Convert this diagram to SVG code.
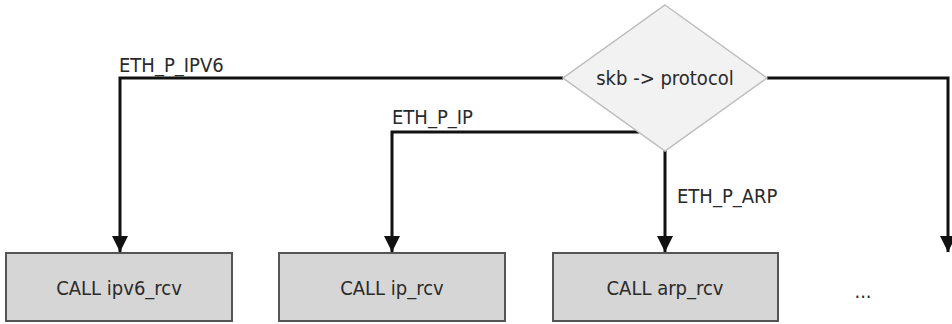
<svg xmlns="http://www.w3.org/2000/svg" width="952" height="324" viewBox="0 0 952 324">
<defs>
<style>
.t{font-family:"DejaVu Sans Condensed","Liberation Sans Narrow","Liberation Sans",sans-serif;font-stretch:condensed;fill:#2a2a2a;font-size:20px}
.box{fill:#d6d6d6;stroke:#555;stroke-width:2}
.ln{fill:none;stroke:#111;stroke-width:3}
</style>
<marker id="ah" viewBox="0 0 10 10" refX="10" refY="5" markerWidth="5.5" markerHeight="5.5" markerUnits="strokeWidth" orient="auto"><path d="M0,0 L10,5 L0,10 z" fill="#111"/></marker>
</defs>
<rect width="952" height="324" fill="#fff"/>
<g id="connectors">
<path class="ln" d="M563,78 H120 V252" marker-end="url(#ah)"/>
<path class="ln" d="M639,132 H392 V252" marker-end="url(#ah)"/>
<path class="ln" d="M665,151 V252" marker-end="url(#ah)"/>
<path class="ln" d="M767,78 H948 V252" marker-end="url(#ah)"/>
<text class="t" x="119" y="72">ETH_P_IPV6</text>
<text class="t" x="392" y="124">ETH_P_IP</text>
<text class="t" x="677" y="203">ETH_P_ARP</text>
</g>
<g id="decision">
<polygon points="665,5 767,78 665,151 563,78" fill="#f2f2f2" stroke="#bdbdbd" stroke-width="1.5"/>
<text class="t" x="665" y="85" text-anchor="middle">skb -&gt; protocol</text>
</g>
<g id="ipv6">
<rect class="box" x="6" y="253" width="226" height="68"/>
<text class="t" x="119" y="295" text-anchor="middle">CALL ipv6_rcv</text>
</g>
<g id="ip">
<rect class="box" x="279" y="253" width="226" height="68"/>
<text class="t" x="392" y="295" text-anchor="middle">CALL ip_rcv</text>
</g>
<g id="arp">
<rect class="box" x="553" y="253" width="225" height="68"/>
<text class="t" x="665" y="295" text-anchor="middle">CALL arp_rcv</text>
</g>
<g id="more">
<text class="t" x="863" y="298" text-anchor="middle" font-size="16">...</text>
</g>
</svg>
